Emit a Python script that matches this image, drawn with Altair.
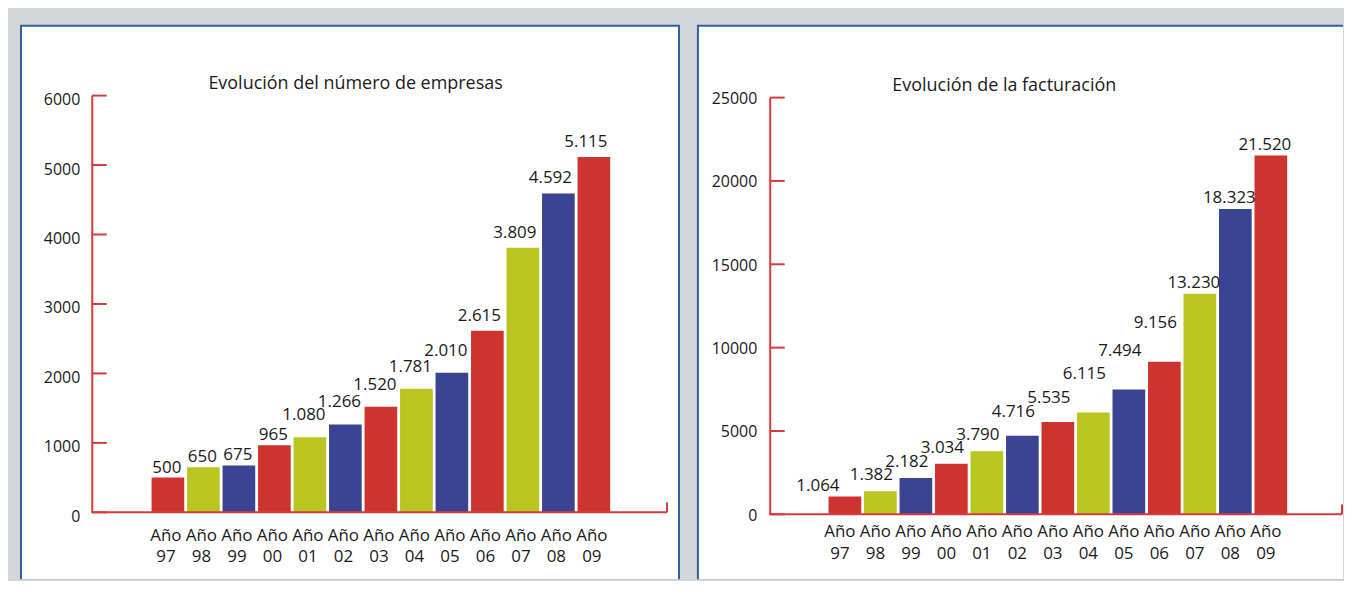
import altair as alt
import pandas as pd

years = ["97", "98", "99", "00", "01", "02", "03", "04", "05", "06", "07", "08", "09"]
empresas = [500, 650, 675, 965, 1080, 1266, 1520, 1781, 2010, 2615, 3809, 4592, 5115]
facturacion = [1064, 1382, 2182, 3034, 3790, 4716, 5535, 6115, 7494, 9156, 13230, 18323, 21520]
ticks_emp = [0, 1000, 2000, 3000, 4000, 5000, 6000]
ticks_fac = [0, 5000, 10000, 15000, 20000, 25000]
title_emp = "Evolución del número de empresas"
title_fac = "Evolución de la facturación"

RED = "#CE342E"
GREEN = "#B9C521"
BLUE = "#394492"
AXIS = "#D9393C"
FRAME = "#2E62A0"
BG = "#D5D6DA"
TXT = "#1a1a1a"
FONT = "Open Sans"

cats = [f"Año {y}" for y in years]


def fmt(v):
    return f"{v:,}".replace(",", ".")


def make_df(values):
    return pd.DataFrame({
        "cat": cats,
        "value": values,
        "label": [fmt(v) for v in values],
        "grp": [i % 3 for i in range(len(values))],
    })


def panel(values, ticks, title, W, H, xrange, yrange, frame, right_border, title_x, title_y,
          label_tiers, ylab_off, ylab_pad, xlab_pad, xlab_lh, xlab_off):
    df = make_df(values)
    one = pd.DataFrame({"k": [0]})
    yscale = alt.Scale(domain=[0, ticks[-1]], range=yrange, nice=False, zero=True)
    base_y = yrange[0]
    x = alt.X("cat:N", title=None,
              scale=alt.Scale(domain=cats, range=xrange, paddingInner=0.08, paddingOuter=0),
              axis=alt.Axis(labelExpr="split(datum.label, ' ')", labelAngle=0,
                            ticks=False, tickSize=0, labelPadding=xlab_pad,
                            labelLineHeight=xlab_lh, labelFont=FONT, labelFontSize=17,
                            labelColor=TXT, domain=False, zindex=2,
                            labelOffset=xlab_off, grid=False))
    y = alt.Y("value:Q", title=None, scale=yscale,
              axis=alt.Axis(values=ticks, ticks=False, tickSize=0, labelPadding=ylab_pad,
                            labelOffset=ylab_off, labelFont=FONT, labelFontSize=16,
                            labelColor=TXT, domainColor=AXIS, domainWidth=2, zindex=2,
                            grid=False, format="d"))
    x0, x1, y0, y1 = frame
    outer = alt.Chart(one).mark_rect(color=FRAME).encode(
        x=alt.value(x0), x2=alt.value(x1), y=alt.value(y0), y2=alt.value(y1))
    inner = alt.Chart(one).mark_rect(color="white").encode(
        x=alt.value(x0 + 2), x2=alt.value(x1 - (2 if right_border else 0)),
        y=alt.value(y0 + 2), y2=alt.value(y1))
    bars = alt.Chart(df).mark_bar().encode(
        x=x, y=y,
        color=alt.Color("grp:N", scale=alt.Scale(domain=[0, 1, 2], range=[RED, GREEN, BLUE]),
                        legend=None))
    labels = []
    for lo, hi, dx, dy in label_tiers:
        labels.append(
            alt.Chart(df).transform_filter(f"datum.value >= {lo} && datum.value < {hi}")
            .mark_text(font=FONT, fontSize=17, color=TXT, align="center",
                       baseline="alphabetic", dx=dx, dy=dy)
            .encode(x=x, y=y, text="label:N"))
    tick_rules = alt.Chart(pd.DataFrame({"value": ticks})).mark_rule(
        color=AXIS, strokeWidth=2).encode(y=y, x=alt.value(0), x2=alt.value(15))
    base_line = alt.Chart(one).mark_rule(color=AXIS, strokeWidth=2).encode(
        x=alt.value(0), x2=alt.value(W), y=alt.value(base_y))
    end_tick = alt.Chart(one).mark_rule(color=AXIS, strokeWidth=2).encode(
        x=alt.value(W), y=alt.value(base_y - 10), y2=alt.value(base_y))
    ttl = alt.Chart(one).mark_text(
        text=title, font=FONT, fontSize=18, color=TXT, align="left",
        baseline="alphabetic").encode(x=alt.value(title_x), y=alt.value(title_y))
    return alt.layer(outer, inner, bars, *labels, tick_rules, base_line,
                     end_tick, ttl).properties(width=W, height=H)


left = panel(empresas, ticks_emp, title_emp, W=577, H=418, xrange=[60, 520], yrange=[418, 0],
             frame=(-72, 590, -71, 485), right_border=True, title_x=117, title_y=-7,
             label_tiers=[(0, 1000, -1, -5), (1000, 2500, -6, -17), (2500, 99999, -8, -10)],
             ylab_off=4, ylab_pad=12, xlab_pad=15, xlab_lh=21, xlab_off=-2)
right = panel(facturacion, ticks_fac, title_fac, W=574, H=418, xrange=[59, 519], yrange=[420, 2],
              frame=(-73, 575, -71, 485), right_border=False, title_x=123, title_y=-5,
              label_tiers=[(0, 1200, -27, -6), (1200, 4000, -9, -11), (4000, 6000, -9, -19),
                           (6000, 10000, -9, -34), (10000, 99999, -6, -6)],
              ylab_off=1, ylab_pad=13, xlab_pad=11, xlab_lh=22, xlab_off=-5)

chart = alt.hconcat(left, right, spacing=15).properties(
    padding={"left": 11, "top": 15, "right": 0, "bottom": 0},
    background=BG,
).configure_view(stroke="transparent")

chart.save("out.html", embed_options={"renderer": "svg", "actions": False})
